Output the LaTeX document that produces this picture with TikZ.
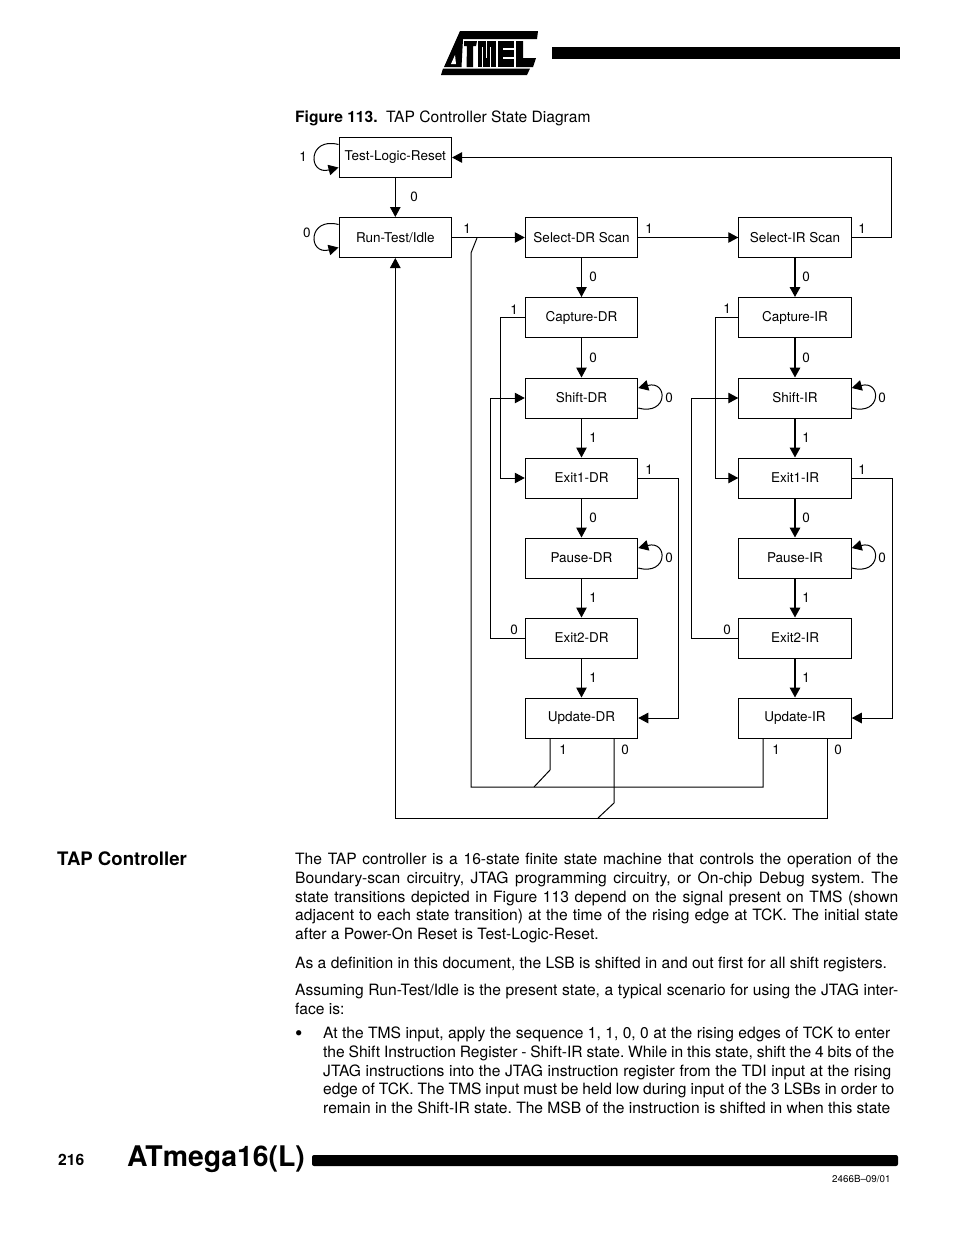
\documentclass[tikz,border=0pt]{standalone}
\usepackage{fontspec}
\setmainfont{TeX Gyre Heros}
\usepackage{tikz}
\usetikzlibrary{arrows.meta,positioning,calc}

\newcommand{\bodyfont}{\frenchspacing\fontsize{15.6}{18.7}\selectfont}
\newcommand{\fitline}[2]{\makebox[#1pt][s]{#2}}

\begin{document}
\begin{tikzpicture}[
  x=1pt, y=-1pt,
  box/.style={rectangle, draw, line width=1pt, minimum width=112.5pt, minimum height=40pt, inner sep=0pt, font=\fontsize{13.5}{15}\selectfont, align=center},
  arrow/.style={-{Triangle[length=10pt,width=10.5pt]}, line width=1pt},
  wire/.style={line width=1pt},
  heavy/.style={line width=1.7pt},
  lbl/.style={inner sep=0pt, font=\fontsize{13.5}{15}\selectfont},
  para/.style={anchor=north west, inner sep=0pt, text width=603pt, align=justify, font=\bodyfont},
  plain/.style={anchor=west, inner sep=0pt}
]
\useasboundingbox (0,0) rectangle (954,1235);

% Logo
\fill (460,31) -- (538,31) -- (537,39) -- (463,39) -- (461.5,67) -- (444,67) -- cycle;
\fill[white] (451,64) -- (455,55) -- (456,64) -- cycle;
\fill (464,41) -- (477,41) -- (476,46) -- (473,46) -- (473,67) -- (466.5,67) -- (467,46) -- (464,46) -- cycle;
\fill (478,41) rectangle (496,67);
\draw[white, line width=1.2pt] (482.5,47) -- (482.5,67) (490.5,47) -- (490.5,67) (486.5,41) -- (486.5,58);
\fill (498,41) rectangle (514,67);
\draw[white, line width=1.6pt] (503,49) -- (514,49) (503,58) -- (514,58);
\fill (516,41) -- (523,41) -- (523,58) -- (536,58) -- (533,67) -- (516,67) -- cycle;
\fill (443,68.5) -- (530,68.5) -- (527,75) -- (441,75) -- cycle;

% Bars
\fill (552,47) rectangle (900,59);
\fill[rounded corners=2pt] (312,1155) rectangle (898,1166);

% Caption
\node[plain, font=\bodyfont] (caption) at (295,118) {\textbf{Figure 113.}\hspace{8.5pt}TAP Controller State Diagram};

% Left column
\node[box] (tlr) at (395.3,157.5) {Test-Logic-Reset};
\node[box] (idle) at (395.3,237.5) {Run-Test/Idle};

% DR column
\node[box] (seldr) at (581.5,237.5) {Select-DR Scan};
\node[box] (capdr) at (581.5,317.5) {Capture-DR};
\node[box] (shiftdr) at (581.5,398) {Shift-DR};
\node[box] (exitonedr) at (581.5,478) {Exit1-DR};
\node[box] (pausedr) at (581.5,558) {Pause-DR};
\node[box] (exittwodr) at (581.5,638) {Exit2-DR};
\node[box] (updr) at (581.5,718) {Update-DR};

% IR column
\node[box] (selir) at (795,237.5) {Select-IR Scan};
\node[box] (capir) at (795,317.5) {Capture-IR};
\node[box] (shiftir) at (795,398) {Shift-IR};
\node[box] (exitoneir) at (795,478) {Exit1-IR};
\node[box] (pauseir) at (795,558) {Pause-IR};
\node[box] (exittwoir) at (795,638) {Exit2-IR};
\node[box] (upir) at (795,718) {Update-IR};

% Arrows
\draw[arrow] (tlr) -- (idle);
\draw[arrow] (idle) -- (seldr);
\draw[arrow] (seldr) -- (selir);
\draw[arrow] (seldr) -- (capdr);
\draw[arrow] (capdr) -- (shiftdr);
\draw[arrow] (shiftdr) -- (exitonedr);
\draw[arrow] (exitonedr) -- (pausedr);
\draw[arrow] (pausedr) -- (exittwodr);
\draw[arrow] (exittwodr) -- (updr);
\draw[arrow, heavy] (selir) -- (capir);
\draw[arrow, heavy] (capir) -- (shiftir);
\draw[arrow, heavy] (shiftir) -- (exitoneir);
\draw[arrow, heavy] (exitoneir) -- (pauseir);
\draw[arrow, heavy] (pauseir) -- (exittwoir);
\draw[arrow, heavy] (exittwoir) -- (upir);

% Self loops
\draw[arrow] ([yshift=13pt]tlr.west) .. controls ++(-31,-8) and ++(-31,8) .. ([yshift=-10pt]tlr.west);
\draw[arrow] ([yshift=13pt]idle.west) .. controls ++(-31,-8) and ++(-31,8) .. ([yshift=-10pt]idle.west);
\foreach \state in {shiftdr,pausedr,shiftir,pauseir}
  \draw[arrow] ([yshift=-10pt]\state.east) .. controls ++(30,8) and ++(30,-8) .. ([yshift=10pt]\state.east);

% Return paths
\draw[arrow] (selir.east) -- ++(40,0) |- (tlr.east);
\draw[arrow] (capdr.west) -- ++(-24,0) |- (exitonedr.west);
\draw[arrow] (exittwodr.west) -- ++(-34,0) |- (shiftdr.west);
\draw[arrow] (exitonedr.east) -- ++(40,0) |- (updr.east);
\draw[arrow] (capir.west) -- ++(-23,0) |- (exitoneir.west);
\draw[arrow] (exittwoir.west) -- ++(-47,0) |- (shiftir.west);
\draw[arrow] (exitoneir.east) -- ++(41,0) |- (upir.east);

% Merging lines
\coordinate (joinidle) at (477,238);
\coordinate (joinone) at (534,787);
\coordinate (joinzero) at (598,818);
\draw[wire] (upir.south -| 763,0) -- (763,787) -- (471,787) -- (471,253) -- (joinidle);
\draw[wire] (updr.south -| 550,0) -- (550,770) -- (joinone);
\draw[wire] (updr.south -| 614,0) -- (614,803) -- (joinzero);
\draw[arrow] (upir.south -| 827,0) -- (827,818) -- (395.3,818) -- (idle.south);

% Labels
\foreach \x/\y/\t [count=\i] in {303/157/1,414/197/0,307/233/0,467/229/1,649/229/1,862/229/1,
  593/277/0,806/277/0,514/310/1,727/309/1,593/358/0,806/358/0,669/398/0,882/398/0,
  593/438/1,806/438/1,649/470/1,862/470/1,593/518/0,806/518/0,669/558/0,882/558/0,
  593/598/1,806/598/1,514/630/0,727/630/0,593/678/1,806/678/1,563/750/1,625/750/0,776/750/1,838/750/0}
  \node[lbl] (lab\i) at (\x,\y) {\t};

% Text
\node[plain, font=\fontsize{18.6}{22}\selectfont\bfseries] (heading) at (57,859) {TAP Controller};
\node[para] (parone) at (295,853) {The TAP controller is a 16-state finite state machine that controls the operation of the\linebreak
Boundary-scan circuitry, JTAG programming circuitry, or On-chip Debug system. The\linebreak
state transitions depicted in Figure 113 depend on the signal present on TMS (shown\linebreak
adjacent to each state transition) at the time of the rising edge at TCK. The initial state\linebreak
after a Power-On Reset is Test-Logic-Reset.};
\node[para] (partwo) at (295,957) {As a definition in this document, the LSB is shifted in and out first for all shift registers.};
\node[para] (parthree) at (295,984) {Assuming Run-Test/Idle is the present state, a typical scenario for using the JTAG inter-\linebreak
face is:};
\node[plain, font=\fontsize{21}{24}\selectfont] (bullet) at (295,1036) {•};
\node[anchor=north west, inner sep=0pt, align=left, font=\bodyfont] (parfour) at (323,1027) {\fitline{567}{At the TMS input, apply the sequence 1, 1, 0, 0 at the rising edges of TCK to enter}\\
\fitline{571}{the Shift Instruction Register - Shift-IR state. While in this state, shift the 4 bits of the}\\
\fitline{568}{JTAG instructions into the JTAG instruction register from the TDI input at the rising}\\
\fitline{571}{edge of TCK. The TMS input must be held low during input of the 3 LSBs in order to}\\
\fitline{567}{remain in the Shift-IR state. The MSB of the instruction is shifted in when this state}};

% Footer
\node[plain, font=\bodyfont\bfseries] (pagenum) at (58,1160) {216};
\node[plain, font=\fontsize{28.4}{32}\selectfont\bfseries] (product) at (127,1159.5) {ATmega16(L)};
\node[plain, font=\fontsize{9.8}{12}\selectfont] (docnum) at (832,1179) {2466B–09/01};

\end{tikzpicture}
\end{document}
